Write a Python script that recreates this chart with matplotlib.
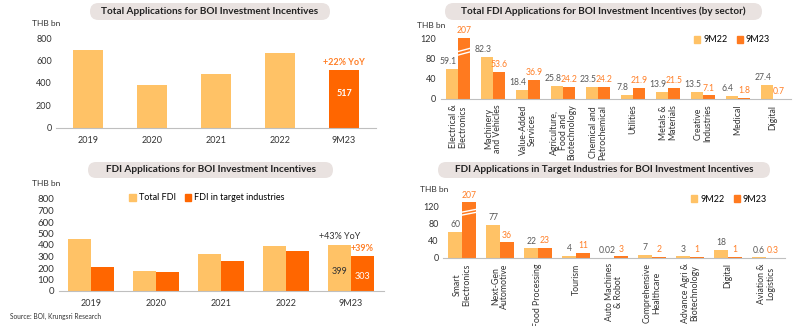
import matplotlib
matplotlib.use("Agg")
import matplotlib.pyplot as plt
import numpy as np
from matplotlib.patches import FancyBboxPatch, Patch
from matplotlib.transforms import IdentityTransform

plt.rcParams['font.family'] = ['Lato', 'DejaVu Sans']

# ---- data ----
years = ['2019', '2020', '2021', '2022', '9M23']
total_apps = [690, 385, 480, 665, 517]

fdi_total = [455, 170, 318, 388, 399]
fdi_target = [213, 163, 260, 352, 303]

sectors = ['Electrical &\nElectronics', 'Machinery\nand Vehicles', 'Value-Added\nServices',
           'Agriculture,\nFood and\nBiotechnology', 'Chemical and\nPetrochemical', 'Utilities',
           'Metals &\nMaterials', 'Creative\nIndustries', 'Medical', 'Digital']
sec_9m22 = [59.1, 82.3, 18.4, 25.8, 23.5, 7.8, 13.9, 13.5, 6.4, 27.4]
sec_9m23 = [207, 53.6, 36.9, 24.2, 24.2, 21.9, 21.5, 7.1, 1.8, 0.7]

targets = ['Smart\nElectronics', 'Next-Gen\nAutomotive', 'Food Processing', 'Tourism',
           'Auto Machines\n& Robot', 'Comprehensive\nHealthcare', 'Advance Agri &\nBiotechnology',
           'Digital', 'Aviation &\nLogistics']
tgt_9m22 = [60, 77, 22, 4, 0.02, 7, 3, 18, 0.6]
tgt_9m23 = [207, 36, 23, 11, 3, 2, 1, 1, 0.3]
tgt_lbl22 = ['60', '77', '22', '4', '0.02', '7', '3', '18', '0.6']
tgt_lbl23 = ['207', '36', '23', '11', '3', '2', '1', '1', '0.3']

LIGHT = '#FFC266'
DARK = '#FF6600'
DARK2 = '#FF7A1F'
LBL_OR = '#FF7F27'
GRAY = '#595959'
PILL = '#E9E2E0'

W, H = 800, 326
fig = plt.figure(figsize=(8, 3.26), dpi=100)


def px_axes(x0, x1, ytop, ybot):
    return fig.add_axes([x0 / W, (H - ybot) / H, (x1 - x0) / W, (ybot - ytop) / H])


def pill(x0, x1, y0, y1, text):
    h = y1 - y0
    p = FancyBboxPatch((x0, H - y1), x1 - x0, h,
                       boxstyle='round,pad=0,rounding_size=%g' % (h / 2),
                       transform=IdentityTransform(), facecolor=PILL, edgecolor='none')
    fig.patches.append(p)
    fig.text((x0 + x1) / 2 / W, (H - (y0 + y1) / 2) / H, text, ha='center', va='center',
             fontsize=7.2, fontweight='bold', color='#222222')


def style(ax):
    for s in ['top', 'right', 'left']:
        ax.spines[s].set_visible(False)
    ax.spines['bottom'].set_color('#BFBFBF')
    ax.spines['bottom'].set_linewidth(0.8)
    ax.tick_params(axis='both', length=0, labelsize=6.5, colors='#333333', pad=3)


def fig_legend(ax, handles, cx, cy, spacing):
    ax.legend(handles=handles, loc='center', bbox_to_anchor=(cx / W, (H - cy) / H),
              bbox_transform=fig.transFigure, ncol=2, frameon=False, fontsize=6.5,
              handlelength=0.7, handleheight=0.7, handletextpad=0.35, columnspacing=spacing,
              borderpad=0, borderaxespad=0)


# ---- top-left ----
ax1 = px_axes(56, 376, 38, 128)
x = np.arange(len(years))
cols = [LIGHT] * 4 + [DARK]
ax1.bar(x, total_apps, width=0.46, color=cols)
ax1.set_ylim(0, 800)
ax1.set_xlim(-0.5, len(years) - 0.5)
ax1.set_yticks([0, 200, 400, 600, 800])
ax1.set_xticks(x, years)
style(ax1)
ax1.tick_params(axis='x', pad=6)
ax1.text(x[-1], total_apps[-1] + 25, '+22% YoY', ha='center', va='bottom', color=LBL_OR,
         fontsize=6.5, fontweight='bold')
ax1.text(x[-1], total_apps[-1] * 0.6, str(total_apps[-1]), ha='center', va='center',
         color='white', fontsize=6.5, fontweight='bold')
fig.text(32 / W, (H - 23) / H, 'THB bn', fontsize=6, va='center', color='#333333')
pill(90, 330, 3, 20, 'Total Applications for BOI Investment Incentives')

# ---- bottom-left ----
ax3 = px_axes(58.5, 383.5, 199, 291)
x = np.arange(len(years))
bw = 0.355
ax3.bar(x - bw / 2, fdi_total, width=bw, color=LIGHT)
ax3.bar(x + bw / 2, fdi_target, width=bw, color=DARK)
ax3.set_ylim(0, 800)
ax3.set_xlim(-0.5, len(years) - 0.5)
ax3.set_yticks(np.arange(0, 801, 100))
ax3.set_xticks(x, years)
style(ax3)
ax3.tick_params(axis='x', pad=6)
ax3.tick_params(axis='y', labelsize=7)
fig_legend(ax3, [Patch(color=LIGHT, label='Total FDI'),
                 Patch(color=DARK, label='FDI in target industries')], 207, 198, 1.0)
ax3.text(x[-1] - bw / 2, fdi_total[-1] + 40, '+43% YoY', ha='center', va='bottom', color='#333333',
         fontsize=6.5)
ax3.text(x[-1] + bw / 2, fdi_target[-1] + 25, '+39%', ha='center', va='bottom', color=LBL_OR,
         fontsize=6.5, fontweight='bold')
ax3.text(x[-1] - bw / 2, fdi_total[-1] * 0.42, str(fdi_total[-1]), ha='center', va='center',
         color='#333333', fontsize=6.5)
ax3.text(x[-1] + bw / 2, fdi_target[-1] * 0.42, str(fdi_target[-1]), ha='center', va='center',
         color='white', fontsize=6.5)
fig.text(32 / W, (H - 184) / H, 'THB bn', fontsize=6, va='center', color='#333333')
pill(88, 333, 162, 178, 'FDI Applications for BOI Investment Incentives')
fig.text(10 / W, (H - 316) / H, 'Source: BOI, Krungsri Research', fontsize=4.8, va='center',
         color='#333333')


def grouped(ax, cats, v22, v23, l22, l23, cap, bw, breaks, leg_xy, shift22):
    x = np.arange(len(cats))
    shown23 = [min(v, cap) for v in v23]
    ax.bar(x - bw / 2, v22, width=bw, color=LIGHT)
    ax.bar(x + bw / 2, shown23, width=bw, color=DARK2, clip_on=False)
    for i in range(len(cats)):
        ax.annotate(l22[i], (x[i] - bw / 2, v22[i]), xytext=(shift22, 2),
                    textcoords='offset points', ha='center', va='bottom', color=GRAY,
                    fontsize=6.2, annotation_clip=False)
        ax.annotate(l23[i], (x[i] + bw / 2, shown23[i]), xytext=(0, 2),
                    textcoords='offset points', ha='center', va='bottom', color=LBL_OR,
                    fontsize=6.2, annotation_clip=False)
        if v23[i] > cap:
            for b in breaks:
                ax.plot([x[i] - 0.02, x[i] + bw + 0.02], [b, b + 7], color='white', lw=1.0,
                        clip_on=False, solid_capstyle='butt')
    ax.set_xlim(-0.5, len(cats) - 0.5)
    ax.set_xticks(x)
    ax.set_xticklabels(cats, rotation=90, ha='center', va='top', multialignment='center',
                       linespacing=1.0)
    ax.set_yticks([0, 40, 80, 120])
    style(ax)
    ax.tick_params(axis='x', labelsize=6.3, pad=4)
    fig_legend(ax, [Patch(color=LIGHT, label='9M22'), Patch(color=DARK2, label='9M23')],
               leg_xy[0], leg_xy[1], 1.0)


# ---- top-right ----
ax2 = px_axes(440.5, 790.5, 38, 99)
ax2.set_ylim(0, 120)
grouped(ax2, sectors, sec_9m22, sec_9m23, [str(v) for v in sec_9m22],
        [str(v) for v in sec_9m23], 120, 0.34, [86, 93], (732, 40), -3)
fig.text(417 / W, (H - 25) / H, 'THB bn', fontsize=6, va='center', color='#333333')
pill(445, 762, 3, 20, 'Total FDI Applications for BOI Investment Incentives (by sector)')

# ---- bottom-right ----
ax4 = px_axes(443, 785, 202.5, 257.7)
ax4.set_ylim(0, 130)
grouped(ax4, targets, tgt_9m22, tgt_9m23, tgt_lbl22, tgt_lbl23, 130, 0.36, [100, 107],
        (729, 199), 0)
fig.text(420 / W, (H - 189) / H, 'THB bn', fontsize=6, va='center', color='#333333')
pill(438, 770, 162, 178, 'FDI Applications in Target Industries for BOI Investment Incentives')

fig.savefig('out.png', dpi=100)
